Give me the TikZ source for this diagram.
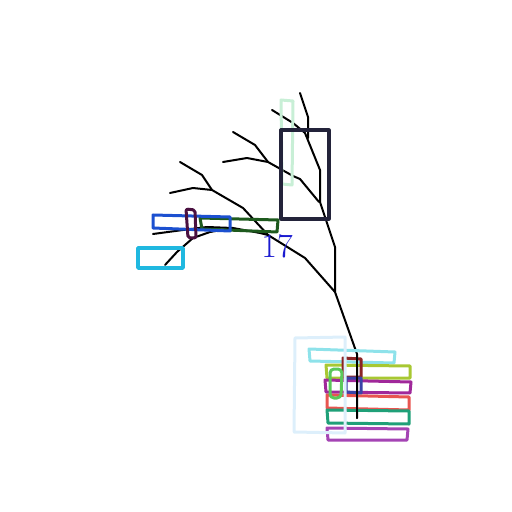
\documentclass[tikz,border=0pt]{standalone}
\usepackage{xcolor}
\usepackage{tikz}
\usetikzlibrary{positioning}
\definecolor{mint}{HTML}{C8EFD6}
\definecolor{navybox}{HTML}{23233A}
\definecolor{darkgreen}{HTML}{1E5A1E}
\definecolor{boxblue}{HTML}{1C50D0}
\definecolor{plum}{HTML}{4A1040}
\definecolor{skyline}{HTML}{20B8E0}
\definecolor{alice}{HTML}{DDEFFB}
\definecolor{paleCyan}{HTML}{8EE2EA}
\definecolor{maroon}{HTML}{8B2424}
\definecolor{limey}{HTML}{A8C832}
\definecolor{leafy}{HTML}{5AC85A}
\definecolor{magenta}{HTML}{A0289A}
\definecolor{indigo}{HTML}{3A44A8}
\definecolor{coral}{HTML}{E85550}
\definecolor{teal}{HTML}{1FA078}
\definecolor{violet}{HTML}{A444B4}
\definecolor{inkblue}{HTML}{1A1AD0}
\begin{document}
\begin{tikzpicture}[x=0.5pt,y=-0.5pt,
  branch/.style={line width=1pt, line join=round, line cap=round},
  box/.style={line width=1.5pt, line join=round}]
\useasboundingbox (0,0) rectangle (512,512);
% tree
\draw [branch] (300,93) -- (308,117) -- (308,138);
\draw [branch] (272,110) -- (293,123) -- (305,133) -- (320,170) -- (320,202)
  -- (335,247) -- (335,292) -- (357,354) -- (357,418);
\draw [branch] (233,132) -- (255,145) -- (268,162) -- (293,176) -- (300,179) -- (319,202);
\draw [branch] (223,162) -- (247,158) -- (268,162);
\draw [branch] (180,162) -- (202,175) -- (212,190) -- (243,208) -- (268,235)
  -- (305,258) -- (335,292);
\draw [branch] (170,193) -- (193,188) -- (212,190);
\draw [branch] (153,234) -- (183,230) -- (207,227) -- (233,228) -- (260,233) -- (268,235);
\draw [branch] (165,265) -- (177,252) -- (193,238) -- (210,232) -- (233,228);
% upper boxes
\draw [box, mint] (281,100) -- (293,101) -- (292,185) -- (282,184) -- cycle;
\draw [box, navybox, line width=1.6pt] (281,130) rectangle (329,219);
\draw [box, darkgreen] (200,218) -- (278,220) -- (277,232) -- (202,229) -- cycle;
\draw [box, boxblue] (153,215) -- (230,217) -- (230,231) -- (153,228) -- cycle;
\draw [box, plum, rounded corners=1pt] (186,209) -- (195,210) -- (196,238) -- (188,238) -- cycle;
\draw [box, skyline, line width=1.7pt] (138,248) rectangle (183,268);
\node [inkblue, font=\fontsize{17}{17}\selectfont] (label17) at (277,246) {17};
% lower boxes
\draw [box, paleCyan] (309,349) -- (395,352) -- (394,363) -- (310,361) -- cycle;
\draw [box, limey] (326,365) -- (410,366) -- (410,378) -- (327,378) -- cycle;
\draw [box, magenta] (325,380) -- (411,382) -- (410,393) -- (326,392) -- cycle;
\draw [box, coral] (327,395) -- (409,397) -- (409,410) -- (327,408) -- cycle;
\draw [box, teal] (327,410) -- (409,411) -- (409,424) -- (328,423) -- cycle;
\draw [box, violet] (327,428) -- (408,429) -- (407,440) -- (328,440) -- cycle;
\draw [box, maroon] (343,358) -- (361,359) -- (361,377) -- (343,377) -- cycle;
\draw [box, indigo] (346,378) -- (361,378) -- (361,393) -- (346,392) -- cycle;
\draw [box, leafy, rounded corners=2pt] (330,369) -- (342,369) -- (341,398) -- (330,398) -- cycle;
\draw [box, alice] (295,338) -- (345,337) -- (345,433) -- (294,432) -- cycle;
\draw [branch] (357,354) -- (357,418);
\end{tikzpicture}
\end{document}
